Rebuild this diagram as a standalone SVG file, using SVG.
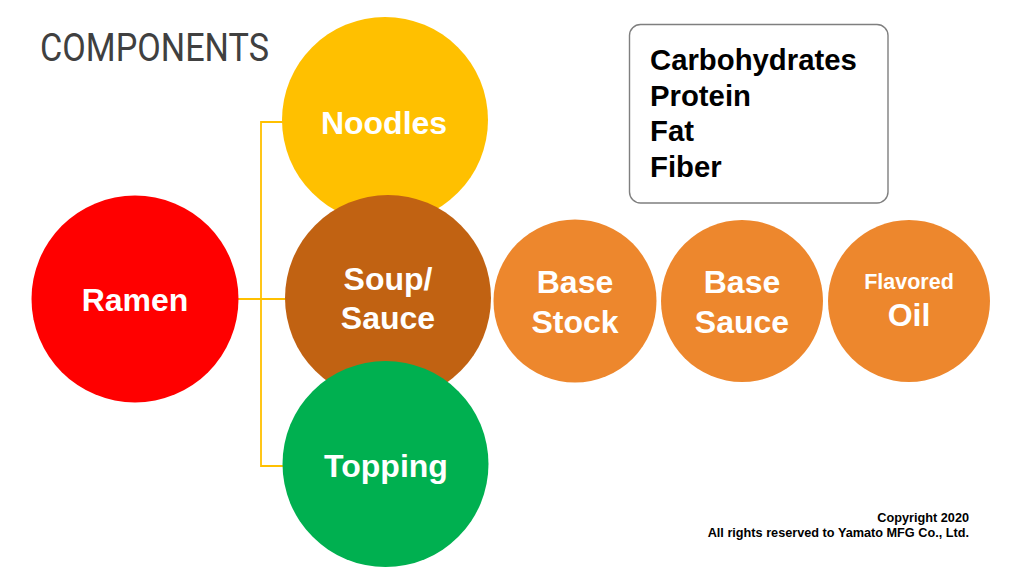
<svg xmlns="http://www.w3.org/2000/svg" width="1024" height="576" viewBox="0 0 1024 576">
<style>
.lbl{font-family:"Liberation Sans",Arial,sans-serif;font-weight:bold;fill:#FFFFFF;text-anchor:middle;font-size:32px}
.conn{stroke:#FFC000;stroke-width:1.8;fill:none}
.list{font-family:"Liberation Sans",Arial,sans-serif;font-weight:bold;fill:#000000;font-size:29.3px}
.copy{font-family:"Liberation Sans",Arial,sans-serif;font-weight:bold;fill:#000000;font-size:12.7px;text-anchor:end}
.orange{fill:#ED872D}
</style>
<rect width="1024" height="576" fill="#FFFFFF"/>
<text x="40" y="61" font-family="Roboto,'DejaVu Sans Condensed',sans-serif" font-weight="400" font-size="39" fill="#404040" textLength="229" lengthAdjust="spacingAndGlyphs">COMPONENTS</text>
<g id="connectors">
<polyline class="conn" points="283,122 261,122 261,466 285,466"/>
<line class="conn" x1="237" y1="299" x2="287" y2="299"/>
</g>
<g id="ramen">
<circle cx="135" cy="299" r="103.5" fill="#FF0000"/>
<text class="lbl" x="135" y="310.5">Ramen</text>
</g>
<g id="noodles">
<circle cx="385" cy="120" r="103" fill="#FFC000"/>
<text class="lbl" x="384" y="134">Noodles</text>
</g>
<g id="soup-sauce">
<circle cx="388" cy="298" r="103" fill="#C16212"/>
<text class="lbl" x="388" y="290">Soup/</text>
<text class="lbl" x="388" y="329">Sauce</text>
</g>
<g id="topping">
<circle cx="385.5" cy="464" r="103" fill="#00B050"/>
<text class="lbl" x="386" y="476.5">Topping</text>
</g>
<g id="base-stock">
<circle class="orange" cx="575" cy="301" r="81.5"/>
<text class="lbl" x="575" y="292.5">Base</text>
<text class="lbl" x="575" y="332.5">Stock</text>
</g>
<g id="base-sauce">
<circle class="orange" cx="742" cy="301" r="81"/>
<text class="lbl" x="742" y="292.5">Base</text>
<text class="lbl" x="742" y="332.5">Sauce</text>
</g>
<g id="flavored-oil">
<circle class="orange" cx="909" cy="301" r="81"/>
<text class="lbl" x="909" y="289" style="font-size:21.5px">Flavored</text>
<text class="lbl" x="909" y="326">Oil</text>
</g>
<g id="nutrients">
<rect x="629.5" y="24.5" width="258.5" height="178.5" rx="11" fill="#FFFFFF" stroke="#7F7F7F" stroke-width="1.4"/>
<text class="list" x="650" y="70">Carbohydrates</text>
<text class="list" x="650" y="106">Protein</text>
<text class="list" x="650" y="141">Fat</text>
<text class="list" x="650" y="177">Fiber</text>
</g>
<text class="copy" x="969" y="521.5">Copyright 2020</text>
<text class="copy" x="969" y="536.5">All rights reserved to Yamato MFG Co., Ltd.</text>
</svg>
